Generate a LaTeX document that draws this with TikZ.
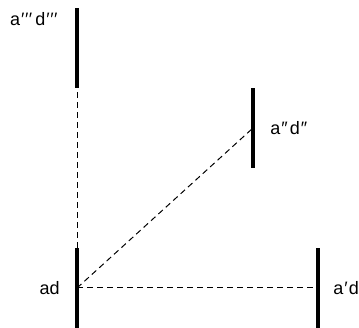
\documentclass[tikz,border=0pt]{standalone}
\usepackage{fontspec}
\setmainfont{Liberation Sans}
\usepackage{tikz}
\usetikzlibrary{positioning, backgrounds}
\newcommand{\trip}{\kern1pt′\kern0.5pt′\kern0.5pt′\kern3pt}
\newcommand{\dbl}{\kern1pt″\kern2pt}
\tikzset{
  mirror/.style={rectangle, fill=black, minimum width=4pt, minimum height=80pt, inner sep=0pt},
  lbl/.style={inner sep=0pt, font=\fontsize{18}{21}\selectfont},
  ray/.style={dash pattern=on 6pt off 4pt, line width=1pt},
}
\begin{document}
\begin{tikzpicture}[x=1pt, y=-1pt]
  \useasboundingbox (0,0) rectangle (359,328);

  %% === Mirrors ===
  \node[mirror] at (77, 48) (m3) {};
  \node[mirror] at (253, 128) (m2) {};
  \node[mirror] at (77, 288) (m0) {};
  \node[mirror] at (318, 288) (m1) {};

  % Labels
  \node[lbl, anchor=west] at (10, 19) (l3) {a\trip d\trip};
  \node[lbl, right=15pt of m2] (l2) {a\dbl d\dbl};
  \node[lbl, left=15pt of m0] (l0) {ad};
  \node[lbl, right=13pt of m1] (l1) {a\kern1pt′\kern1pt d};

  %% === Dashed rays from ad ===
  \begin{scope}[on background layer]
    \draw[ray] (m0.center) -- (m1.center);
    \draw[ray] (m0.center) -- (m2.center);
    \draw[ray] (m0.center) -- (m3.center);
  \end{scope}

\end{tikzpicture}
\end{document}
